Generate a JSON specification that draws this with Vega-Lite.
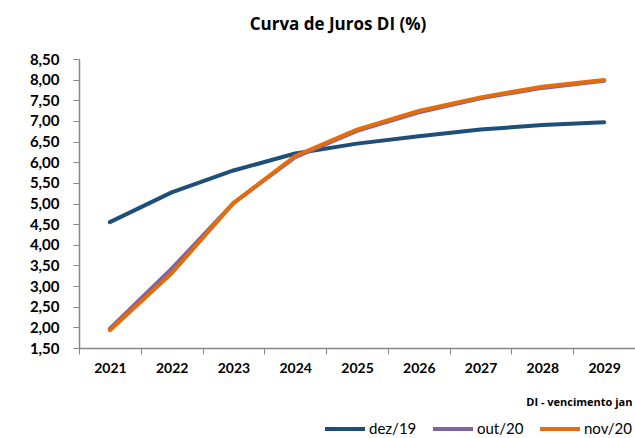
{
  "$schema": "https://vega.github.io/schema/vega-lite/v6.json",
  "autosize": {"type": "none"},
  "width": 556,
  "height": 289,
  "padding": {"left": 79, "top": 59, "right": 0, "bottom": 90},
  "background": "white",
  "config": {"view": {"stroke": null}, "font": "Lato"},
  "title": {
    "text": "Curva de Juros DI (%)",
    "font": "Open Sans",
    "fontSize": 17,
    "fontWeight": "bold",
    "color": "#000000",
    "anchor": "middle",
    "dx": -19,
    "offset": 18
  },
  "data": {
    "values": [
      {"ano": "2021", "serie": "dez/19", "taxa": 4.55},
      {"ano": "2022", "serie": "dez/19", "taxa": 5.27},
      {"ano": "2023", "serie": "dez/19", "taxa": 5.80},
      {"ano": "2024", "serie": "dez/19", "taxa": 6.21},
      {"ano": "2025", "serie": "dez/19", "taxa": 6.45},
      {"ano": "2026", "serie": "dez/19", "taxa": 6.63},
      {"ano": "2027", "serie": "dez/19", "taxa": 6.79},
      {"ano": "2028", "serie": "dez/19", "taxa": 6.90},
      {"ano": "2029", "serie": "dez/19", "taxa": 6.97},
      {"ano": "2021", "serie": "out/20", "taxa": 1.97},
      {"ano": "2022", "serie": "out/20", "taxa": 3.42},
      {"ano": "2023", "serie": "out/20", "taxa": 5.01},
      {"ano": "2024", "serie": "out/20", "taxa": 6.12},
      {"ano": "2025", "serie": "out/20", "taxa": 6.76},
      {"ano": "2026", "serie": "out/20", "taxa": 7.21},
      {"ano": "2027", "serie": "out/20", "taxa": 7.55},
      {"ano": "2028", "serie": "out/20", "taxa": 7.80},
      {"ano": "2029", "serie": "out/20", "taxa": 7.97},
      {"ano": "2021", "serie": "nov/20", "taxa": 1.93},
      {"ano": "2022", "serie": "nov/20", "taxa": 3.31},
      {"ano": "2023", "serie": "nov/20", "taxa": 5.01},
      {"ano": "2024", "serie": "nov/20", "taxa": 6.15},
      {"ano": "2025", "serie": "nov/20", "taxa": 6.79},
      {"ano": "2026", "serie": "nov/20", "taxa": 7.24},
      {"ano": "2027", "serie": "nov/20", "taxa": 7.57},
      {"ano": "2028", "serie": "nov/20", "taxa": 7.83},
      {"ano": "2029", "serie": "nov/20", "taxa": 7.99}
    ]
  },
  "mark": {"type": "line", "strokeCap": "round", "strokeJoin": "round"},
  "encoding": {
    "x": {
      "field": "ano",
      "type": "ordinal",
      "bandPosition": 0.5,
      "scale": {"type": "band", "paddingInner": 0, "paddingOuter": 0},
      "axis": {
        "title": "DI - vencimento jan",
        "titleFont": "Open Sans",
        "titleFontSize": 11,
        "titleFontWeight": "bold",
        "titleColor": "#000000",
        "titleAnchor": "end",
        "titleAlign": "right",
        "titleBaseline": "middle",
        "titleX": 553,
        "titleY": 54,
        "labelAngle": 0,
        "labelFont": "Lato",
        "labelFontSize": 14,
        "labelFontWeight": "bold",
        "labelColor": "#000000",
        "labelPadding": 7,
        "tickBand": "extent",
        "tickSize": 6,
        "tickColor": "#868686",
        "domainColor": "#868686",
        "domainWidth": 1.5,
        "grid": false
      }
    },
    "y": {
      "field": "taxa",
      "type": "quantitative",
      "scale": {"domain": [1.5, 8.5], "nice": false, "zero": false},
      "axis": {
        "title": null,
        "values": [1.5, 2, 2.5, 3, 3.5, 4, 4.5, 5, 5.5, 6, 6.5, 7, 7.5, 8, 8.5],
        "labelExpr": "replace(format(datum.value, '.2f'), '.', ',')",
        "labelFont": "Lato",
        "labelFontSize": 15,
        "labelFontWeight": "bold",
        "labelColor": "#000000",
        "labelPadding": 14,
        "tickSize": 6,
        "tickColor": "#868686",
        "domainColor": "#868686",
        "domainWidth": 1.5,
        "grid": false
      }
    },
    "color": {
      "field": "serie",
      "type": "nominal",
      "sort": ["dez/19", "out/20", "nov/20"],
      "scale": {"domain": ["dez/19", "out/20", "nov/20"], "range": ["#1F4E79", "#8064A2", "#E46C0A"]},
      "legend": {
        "title": null,
        "orient": "none",
        "legendX": 244,
        "legendY": 348,
        "direction": "horizontal",
        "symbolType": "stroke",
        "symbolSize": 1600,
        "symbolStrokeWidth": 4,
        "labelFont": "Lato",
        "labelFontSize": 15,
        "labelColor": "#000000",
        "labelOffset": 2,
        "columnPadding": 8
      }
    },
    "strokeWidth": {
      "field": "serie",
      "type": "nominal",
      "scale": {"domain": ["dez/19", "out/20", "nov/20"], "range": [4, 4, 4.5]},
      "legend": null
    },
    "order": {"field": "serie", "sort": "ascending"}
  }
}
